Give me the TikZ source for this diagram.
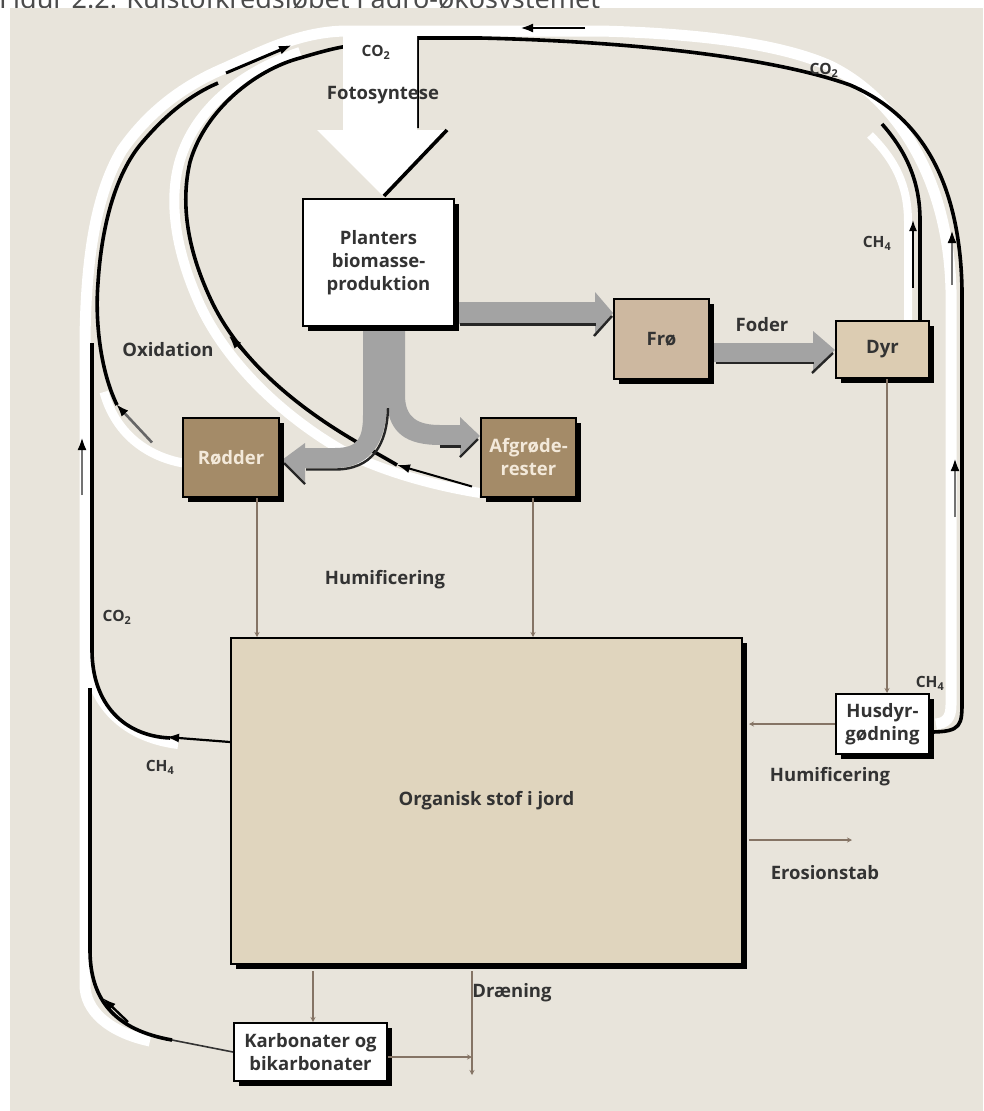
\documentclass[tikz,border=0pt]{standalone}
\usepackage{fontspec}
\setmainfont{Open Sans}
\newfontfamily\titlefont{Noto Sans}
\usetikzlibrary{arrows.meta,shadows}
\definecolor{bgc}{HTML}{E8E4DB}
\definecolor{labelc}{HTML}{333333}
\definecolor{darkbox}{HTML}{A48B68}
\definecolor{frofill}{HTML}{CDB8A0}
\definecolor{dyrfill}{HTML}{DCCCB2}
\definecolor{orgfill}{HTML}{E0D5BE}
\definecolor{grayarrow}{HTML}{A3A3A3}
\definecolor{connc}{HTML}{857465}
\definecolor{creamtxt}{HTML}{F3E9DA}
\pgfdeclarelayer{back}
\pgfdeclarelayer{lines}
\pgfdeclarelayer{flows}
\pgfsetlayers{back,lines,flows,main}
\begin{document}
\begin{tikzpicture}[x=1pt,y=-1pt,
  lbl/.style={font=\fontsize{18.5}{23}\selectfont\bfseries, text=labelc, align=center, inner sep=0pt},
  chem/.style={font=\fontsize{15.5}{18}\selectfont\bfseries, text=labelc, inner sep=0pt},
  box/.style={draw=black, line width=2pt, align=center, inner sep=0pt,
     font=\fontsize{18.5}{23}\selectfont\bfseries, text=labelc,
     drop shadow={shadow xshift=5pt, shadow yshift=-5pt, fill=black, opacity=1}},
  band/.style={draw=white, line width=11pt},
  blk/.style={draw=black, line width=3.6pt},
  conn/.style={draw=connc, line width=1.6pt, -{Stealth[length=5pt,width=5pt]}},
  tip/.style={-{Latex[length=13pt,width=9pt,color=black]}},
  shade/.style={draw=black!85, line width=2.4pt}
]
\useasboundingbox (0,0) rectangle (983,1111);
% ---------- boxes ----------
\node[box, fill=white, minimum width=151pt, minimum height=127pt] (plant) at (378.5,262.5) {Planters\\biomasse-\\produktion};
\node[box, fill=frofill, minimum width=95pt, minimum height=80pt] (fro) at (661.5,339) {Frø};
\node[box, fill=dyrfill, minimum width=93pt, minimum height=57pt] (dyr) at (882.5,349.5) {\raisebox{-4pt}{Dyr}};
\node[box, fill=darkbox, text=creamtxt, minimum width=96pt, minimum height=79pt] (rod) at (231,457.5) {Rødder};
\node[box, fill=darkbox, text=creamtxt, minimum width=95pt, minimum height=79pt] (afg) at (528.5,457.5) {Afgrøde-\\rester};
\node[box, fill=orgfill, minimum width=511pt, minimum height=326pt] (org) at (486.5,801) {Organisk stof i jord};
\node[box, fill=white, minimum width=93pt, minimum height=60pt] (hus) at (882.5,724) {Husdyr-\\gødning};
\node[box, fill=white, minimum width=153pt, minimum height=58pt] (karb) at (310.5,1052) {Karbonater og\\bikarbonater};
% ---------- labels ----------
\node[chem] (co2top) at (376,52) {CO\textsubscript{2}};
\node[lbl] (foto) at (383,95) {Fotosyntese};
\node[chem] (co2r) at (824,70) {CO\textsubscript{2}};
\node[chem] (ch4a) at (877,243) {CH\textsubscript{4}};
\node[lbl] (foder) at (762,325) {Foder};
\node[lbl] (oxid) at (168,350) {Oxidation};
\node[lbl] (hum1) at (385,580) {Humificering};
\node[chem] (co2l) at (117,617) {CO\textsubscript{2}};
\node[chem] (ch4l) at (160,767) {CH\textsubscript{4}};
\node[chem] (ch4r) at (930,683) {CH\textsubscript{4}};
\node[lbl] (hum2) at (830,777) {Humificering};
\node[lbl] (eros) at (825,873) {Erosionstab};
\node[lbl] (dran) at (512,993) {Dræning};
\coordinate (ero) at (852,840);
\coordinate (dr) at (472,1075);
% ---------- background ----------
\begin{pgfonlayer}{back}
\fill[white] (0,0) rectangle (983,1111);
\node[anchor=base west, inner sep=0pt, font=\titlefont\fontsize{27}{27}\selectfont, text=black!70] (title) at (-1,8) {Figur 2.2. Kulstofkredsløbet i agro-økosystemet};
\fill[bgc] (10,8) rectangle (983,1111);
\end{pgfonlayer}
% ---------- carbon loops ----------
\begin{pgfonlayer}{lines}
% white bands
\draw[band] (150,1041) .. controls (108,1032) and (85,1010) .. (85,985) -- (85,340)
  .. controls (86,250) and (98,190) .. (122,150) .. controls (150,110) and (185,85) .. (225,68)
  .. controls (265,50) and (300,32) .. (345,31) -- (600,31)
  .. controls (720,34) and (790,48) .. (830,66) .. controls (890,95) and (948,170) .. (951,290)
  -- (951,705) .. controls (951,718) and (946,723) .. (936,724);
\draw[band, line width=8pt] (908,320) -- (908,222) .. controls (908,185) and (895,160) .. (870,135);
\draw[band, line width=8pt] (85,640) .. controls (85,702) and (122,738) .. (178,745);
\draw[band, line width=9pt] (104,392) .. controls (115,432) and (145,456) .. (183,463);
\draw[band, line width=10pt] (480,493) .. controls (430,485) and (380,470) .. (345,452)
  .. controls (285,418) and (228,365) .. (200,305) .. controls (175,250) and (168,200) .. (180,160)
  .. controls (195,110) and (240,72) .. (300,52);
% outer right loop (Husdyrgoedning / Dyr -> CO2 -> Fotosyntese)
\draw[blk] ([yshift=-8pt]hus.east) .. controls (962,732) and (962,725) .. (962,700) -- (962,290)
  .. controls (960,180) and (920,115) .. (850,85) .. controls (780,60) and (650,42) .. (480,38)
  -- (417,38) -- (417,128);
\draw[blk] ([xshift=37.5pt]dyr.north) -- (920,220) .. controls (920,180) and (905,150) .. (882,124);
% Oxidation loop from Roedder
\draw[blk] (117,405) .. controls (100,370) and (95,320) .. (98,283) .. controls (101,235) and (112,180) .. (140,145)
  .. controls (165,115) and (190,95) .. (218,83);
\draw[line width=3pt, tip] (226,73) -- (292,45);
\draw[draw=black!60, line width=2.6pt, tip] ([xshift=-30pt,yshift=15pt]rod.west) -- (116,404);
% loop from Afgroederester
\draw[blk] (397,465) .. controls (380,455) and (365,447) .. (350,438) .. controls (295,405) and (240,360) .. (212,302)
  .. controls (188,252) and (180,205) .. (190,162) .. controls (205,110) and (255,70) .. (300,58)
  .. controls (320,52) and (335,48) .. (348,46);
\draw[line width=2pt, tip] ([xshift=-8pt,yshift=-29pt]afg.west) -- (397,465);
\draw[line width=2pt, tip] (264,374) -- (229,336);
% loop from Organisk stof
\draw[blk] (92,343) -- (92,650) .. controls (92,705) and (125,736) .. (170,738);
\draw[line width=2.2pt, tip] ([yshift=59pt]org.west) -- (166,737);
\draw[draw=black!55, line width=2.6pt, tip] (82,495) -- (82,437);
% loop from Karbonater
\draw[line width=1.6pt, draw=black!80] (karb.west) -- (172,1040);
\draw[blk] (172,1040) .. controls (115,1030) and (90,1000) .. (90,950) -- (90,688);
\draw[line width=2.4pt, tip] (128,1022) -- (103,998);
% arrows along the right loop
\draw[draw=black!55, line width=2.6pt, tip] (955,517) -- (955,458);
\draw[draw=black!55, line width=2.6pt, tip] (952,285) -- (952,230);
\draw[line width=2.6pt, tip] (585,28) -- (520,28);
\draw[line width=1.6pt, -{Latex[length=11pt,width=8pt]}] (913,288) -- (913,220);
% big photosynthesis arrow
\fill[white] (343,26) -- (417,26) -- (417,130) -- (447,130) -- (383,196) -- (317,130) -- (343,130) -- cycle;
\draw[line width=3.6pt] (447,130) -- (384,196);
\end{pgfonlayer}
% ---------- grey flows ----------
\begin{pgfonlayer}{flows}
\fill[grayarrow] (457,302) -- (595,302) -- (595,292) -- (613,313) -- (595,334) -- (595,324) -- (457,324) -- cycle;
\draw[shade] (460,324.5) -- (596,324.5);
\draw[shade] (612,316) -- (594,336);
\fill[grayarrow] (712,343) -- (813,343) -- (813,331) -- (835,350) -- (813,371) -- (813,362) -- (712,362) -- cycle;
\draw[shade] (716,363) -- (814,363);
\draw[shade] (833,353) -- (812,373);
\fill[grayarrow] (363,330) -- (405,330) -- (405,395) .. controls (405,418) and (418,425) .. (440,425) -- (460,425)
  -- (460,417) -- (480,436) -- (460,455) -- (460,445) -- (440,445) .. controls (405,445) and (390,432) .. (387,405)
  .. controls (386,440) and (372,468) .. (335,468) -- (305,468) -- (305,482) -- (282,460) -- (305,443) -- (305,448)
  -- (335,448) .. controls (358,448) and (363,438) .. (363,415) -- cycle;
\draw[shade] (388,408) .. controls (387,445) and (372,469.5) .. (335,469.5) -- (306,469.5);
\draw[shade] (284,463) -- (305,484);
\draw[shade] (440,446.5) -- (461,446.5);
\draw[shade] (478,439) -- (460,457);
\end{pgfonlayer}
% ---------- thin connectors ----------
\draw[conn] ([xshift=26pt]rod.south) -- ([xshift=26pt]rod.south |- org.north);
\draw[conn] ([xshift=4.5pt]afg.south) -- ([xshift=4.5pt]afg.south |- org.north);
\draw[conn] ([xshift=4.5pt]dyr.south) -- ([xshift=4.5pt]hus.north);
\draw[conn] (hus.west) -- ([xshift=6pt]hus.west -| org.east);
\draw[conn] ([xshift=6pt]org.east |- ero) -- (ero);
\draw[conn] ([xshift=2.5pt,yshift=-6pt]karb.north |- org.south) -- ([xshift=2.5pt]karb.north);
\draw[conn] ([yshift=-6pt]dr |- org.south) -- (dr);
\draw[conn] ([yshift=-5pt]karb.east) -- ([yshift=-5pt]karb.east -| dr);
\end{tikzpicture}
\end{document}
